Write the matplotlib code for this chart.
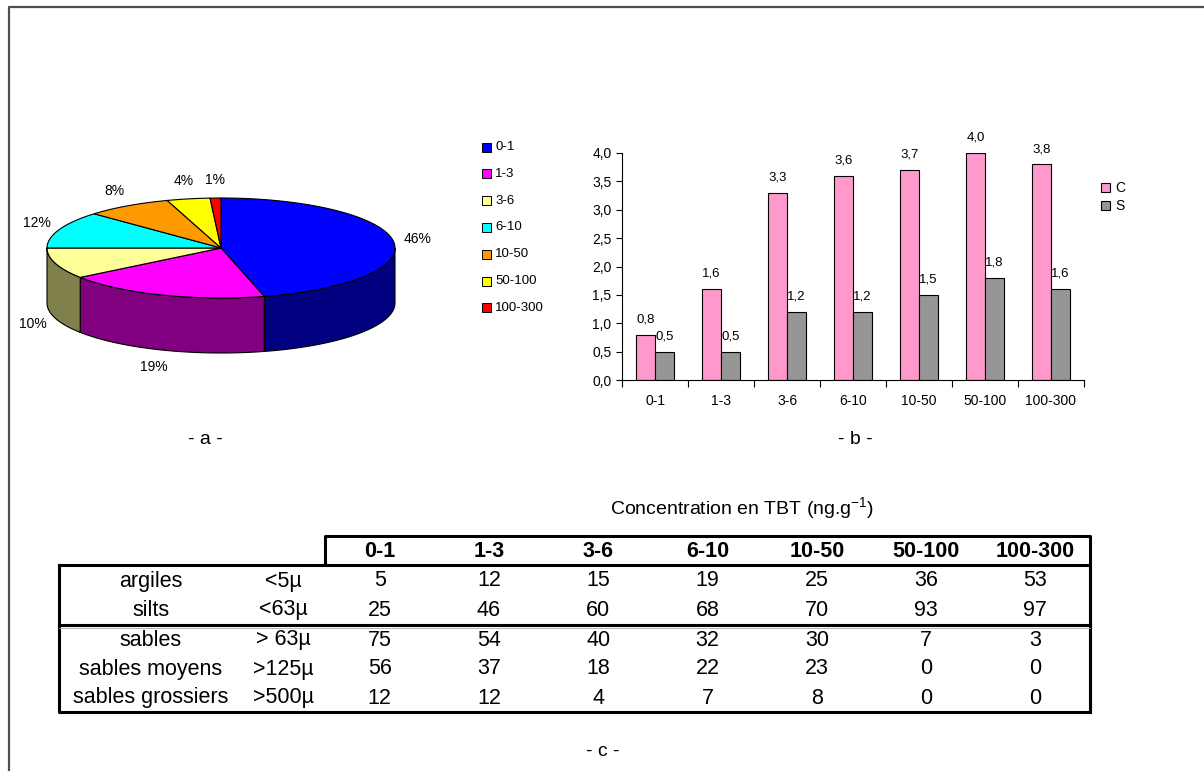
import numpy as np
import matplotlib.pyplot as plt
from matplotlib import font_manager
from matplotlib.patches import Polygon, Rectangle
from matplotlib.ticker import FuncFormatter, MultipleLocator

plt.rcParams['font.family'] = ['Liberation Sans', 'DejaVu Sans']
plt.rcParams['mathtext.fontset'] = 'custom'
plt.rcParams['mathtext.rm'] = 'Liberation Sans'

# classes de concentration en TBT (ng/g)
classes = ['0-1', '1-3', '3-6', '6-10', '10-50', '50-100', '100-300']

# - a - repartition des stations (%)
pie_pct = [46, 19, 10, 12, 8, 4, 1]
pie_colors = ['#0000FF', '#FF00FF', '#FFFF99', '#00FFFF', '#FF9900', '#FFFF00', '#FF0000']
side_colors = ['#000080', '#800080', '#80804C', '#008080', '#804C00', '#808000', '#800000']

# - b - series C et S
serie_c = [0.8, 1.6, 3.3, 3.6, 3.7, 4.0, 3.8]
serie_s = [0.5, 0.5, 1.2, 1.2, 1.5, 1.8, 1.6]

# - c - granulometrie
row_names = ['argiles', 'silts', 'sables', 'sables moyens', 'sables grossiers']
row_sizes = ['<5µ', '<63µ', '> 63µ', '>125µ', '>500µ']
argiles = [5, 12, 15, 19, 25, 36, 53]
silts = [25, 46, 60, 68, 70, 93, 97]
sables = [75, 54, 40, 32, 30, 7, 3]
sables_moyens = [56, 37, 18, 22, 23, 0, 0]
sables_grossiers = [12, 12, 4, 7, 8, 0, 0]
table_rows = [argiles, silts, sables, sables_moyens, sables_grossiers]

installed = {f.name for f in font_manager.fontManager.ttflist}
narrow = 'Liberation Sans Narrow' if 'Liberation Sans Narrow' in installed else 'Liberation Sans'

W, H = 1204, 771
fig = plt.figure(figsize=(W / 100, H / 100), dpi=100)

# background axes in pixel coordinates
bg = fig.add_axes([0, 0, 1, 1])
bg.set_xlim(0, W)
bg.set_ylim(H, 0)
bg.axis('off')

# frame
bg.plot([9, 9, W], [H, 7, 7], color='#505050', lw=1.6)

# ---- 3D pie ----
cx, cy, a, b, depth = 221, 248, 174, 50, 55


def ell(t):
    r = np.radians(t)
    return cx + a * np.cos(r), cy - b * np.sin(r)


cum = np.concatenate([[0], np.cumsum(pie_pct)]) / sum(pie_pct) * 360
starts = 90 - cum[:-1]
ends = 90 - cum[1:]

for s, e, col in zip(starts, ends, side_colors):
    lo, hi = max(e, -180), min(s, 0)
    if lo < hi:
        t = np.linspace(hi, lo, 80)
        x, y = ell(t)
        pts = np.column_stack([np.r_[x, x[::-1]], np.r_[y, y[::-1] + depth]])
        bg.add_patch(Polygon(pts, closed=True, fc=col, ec='black', lw=0.8))

for s, e, col in zip(starts, ends, pie_colors):
    t = np.linspace(s, e, 120)
    x, y = ell(t)
    pts = np.column_stack([np.r_[cx, x], np.r_[cy, y]])
    bg.add_patch(Polygon(pts, closed=True, fc=col, ec='black', lw=0.8))

for s, e, p in zip(starts, ends, pie_pct):
    m = (s + e) / 2
    ex, ey = ell(m)
    r = np.radians(m)
    if np.sin(r) < 0:
        ey += depth
    bg.text(ex + 24 * np.cos(r), ey - 18 * np.sin(r), f'{p}%',
            ha='center', va='center', fontsize=10)

# pie legend
for i, (lab, col) in enumerate(zip(classes, pie_colors)):
    ly = 147 + i * 26.8
    bg.add_patch(Rectangle((482, ly - 4.5), 9, 9, fc=col, ec='black', lw=0.7))
    bg.text(495, ly, lab, va='center', ha='left', fontsize=9.5)

bg.text(205, 440, '- a -', ha='center', va='center', fontsize=14, family=narrow)
bg.text(855, 440, '- b -', ha='center', va='center', fontsize=14, family=narrow)

# ---- bar chart ----
ax = fig.add_axes([622 / W, 1 - 380 / H, 462 / W, 227 / H])
x = np.arange(len(classes))
bw = 0.29
bc = ax.bar(x - bw / 2, serie_c, bw, color='#FF99CC', edgecolor='black', lw=0.8, label='C')
bs = ax.bar(x + bw / 2, serie_s, bw, color='#969696', edgecolor='black', lw=0.8, label='S')
comma = lambda v: f'{v:.1f}'.replace('.', ',')
for bars, vals in ((bc, serie_c), (bs, serie_s)):
    for rect, v in zip(bars, vals):
        ax.annotate(comma(v), (rect.get_x() + rect.get_width() / 2, v),
                    xytext=(0, 11), textcoords='offset points',
                    ha='center', va='center', fontsize=9.5)
ax.set_xlim(-0.5, len(classes) - 0.5)
ax.set_ylim(0, 4)
ax.yaxis.set_major_locator(MultipleLocator(0.5))
ax.yaxis.set_major_formatter(FuncFormatter(lambda v, p: comma(v)))
ax.set_xticks(np.arange(-0.5, len(classes)))
ax.set_xticklabels([])
ax.set_xticks(x, minor=True)
ax.set_xticklabels(classes, minor=True)
ax.tick_params(axis='x', which='major', length=5, width=0.8)
ax.tick_params(axis='x', which='minor', length=0, pad=10, labelsize=10)
ax.tick_params(axis='y', length=4, width=0.8, labelsize=10)
for sp in ('top', 'right'):
    ax.spines[sp].set_visible(False)
ax.patch.set_alpha(0)
ax.legend(loc='upper left', bbox_to_anchor=(1.025, 0.9), frameon=False,
          fontsize=10, handlelength=0.65, handleheight=0.65, handletextpad=0.4,
          labelspacing=0.3, borderaxespad=0)

# ---- table ----
bg.text(742, 509, 'Concentration en TBT (ng.g$^{-1}$)', ha='center', va='center', fontsize=14)

tl, tr, hx = 59, 1090, 325
h_top, t_top, sep, t_bot = 536, 565, 625, 712
cw = (tr - hx) / len(classes)
col_x = [hx + cw * (i + 0.5) for i in range(len(classes))]
row_y = [581, 610, 640, 669, 698]
lw = 2.2
bg.plot([hx, hx, tr, tr], [t_top, h_top, h_top, t_bot], color='black', lw=lw)
bg.plot([tl, tr, tr, tl, tl], [t_top, t_top, t_bot, t_bot, t_top], color='black', lw=lw)
bg.plot([tl, tr], [sep, sep], color='black', lw=lw)
bg.plot([tl, tr], [sep + 3, sep + 3], color='#aaaaaa', lw=0.6)

for cxp, lab in zip(col_x, classes):
    bg.text(cxp, (h_top + t_top) / 2 + 1, lab, ha='center', va='center',
            fontsize=15.5, fontweight='bold')
for ry, name, size, vals in zip(row_y, row_names, row_sizes, table_rows):
    bg.text(151, ry, name, ha='center', va='center', fontsize=15.5)
    bg.text(283, ry, size, ha='center', va='center', fontsize=15.5)
    for cxp, v in zip(col_x, vals):
        bg.text(cxp, ry, str(v), ha='center', va='center', fontsize=15.5)

bg.text(603, 752, '- c -', ha='center', va='center', fontsize=14, family=narrow)

fig.savefig('out.png', dpi=100)
